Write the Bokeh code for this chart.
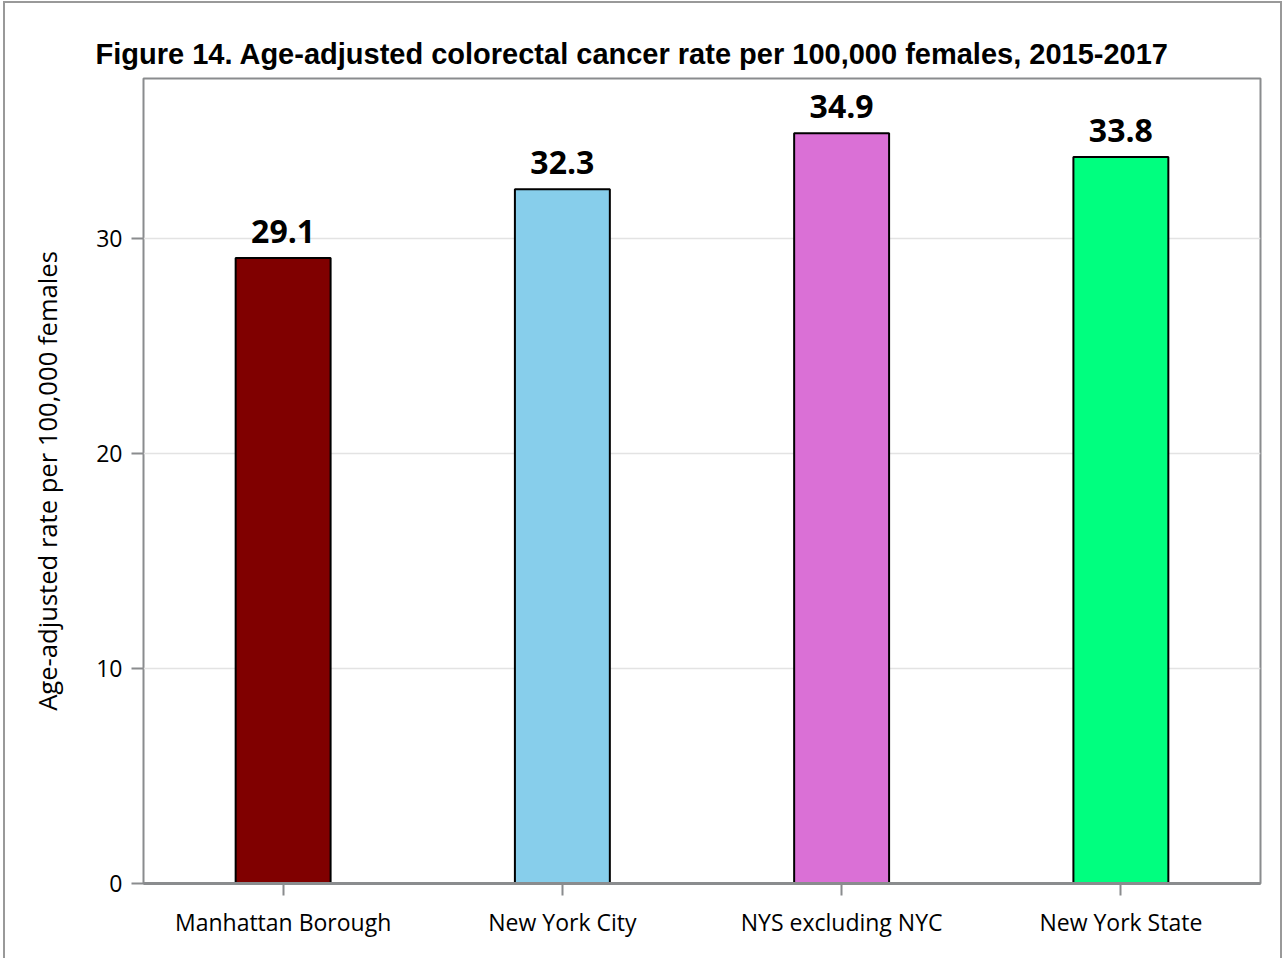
from bokeh.plotting import figure
from bokeh.models import ColumnDataSource, FactorRange, Range1d, FixedTicker
from bokeh.embed import file_html
from bokeh.resources import INLINE
from bokeh.core.properties import value

categories = ["Manhattan Borough", "New York City", "NYS excluding NYC", "New York State"]
rates = [29.1, 32.3, 34.9, 33.8]
colors = ["#800000", "#87CEEB", "#DA70D6", "#00FF7F"]
labels = ["29.1", "32.3", "34.9", "33.8"]
y_ticks = [0, 10, 20, 30]
title_text = "Figure 14. Age-adjusted colorectal cancer rate per 100,000 females, 2015-2017"
y_label = "Age-adjusted rate per 100,000 females"

src = ColumnDataSource(dict(cat=categories, rate=rates, color=colors, label=labels))

p = figure(x_range=FactorRange(*categories, range_padding=0),
           y_range=Range1d(0, 37.45),
           frame_width=1117, frame_height=805,
           min_border_left=138, min_border_right=20,
           min_border_top=75, min_border_bottom=75,
           output_backend="svg", toolbar_location=None,
           title=title_text)
p.styles = {"margin-left": "3px", "margin-top": "1px",
            "border-left": "2px solid #999999", "border-top": "2px solid #999999",
            "border-right": "2px solid #999999"}

p.title.text_font = "Liberation Sans"
p.title.text_font_style = "bold"
p.title.text_font_size = "29px"
p.title.text_color = "#000000"
p.title.align = "left"
p.title.offset = -48
p.title.standoff = 18

p.vbar(x="cat", top="rate", width=0.34, source=src, fill_color="color",
       line_color="#000000", line_width=2)
p.text(x="cat", y="rate", text="label", source=src, text_align="center",
       text_baseline="bottom", y_offset=-15, text_font=value("Open Sans"),
       text_font_style="bold", text_font_size="32px", text_color="#000000")

p.outline_line_color = "#8a8c8e"
p.outline_line_width = 2

p.xgrid.grid_line_color = None
p.ygrid.grid_line_color = "#e3e3e3"
p.ygrid.grid_line_width = 1.5

p.yaxis.ticker = FixedTicker(ticks=y_ticks)
p.yaxis.axis_line_color = None
p.yaxis.major_tick_line_color = "#8a8c8e"
p.yaxis.major_tick_line_width = 2
p.yaxis.major_tick_out = 12
p.yaxis.major_tick_in = 0
p.yaxis.minor_tick_line_color = None
p.yaxis.major_label_text_font = "Open Sans"
p.yaxis.major_label_text_font_size = "23px"
p.yaxis.major_label_text_color = "#000000"
p.yaxis.major_label_standoff = 9
p.yaxis.axis_label = y_label
p.yaxis.axis_label_text_font = "Open Sans"
p.yaxis.axis_label_text_font_size = "25.6px"
p.yaxis.axis_label_text_font_style = "normal"
p.yaxis.axis_label_text_color = "#000000"
p.yaxis.axis_label_standoff = 28

p.xaxis.axis_line_color = "#8a8c8e"
p.xaxis.axis_line_width = 3
p.xaxis.major_tick_line_color = "#8a8c8e"
p.xaxis.major_tick_line_width = 2
p.xaxis.major_tick_out = 12
p.xaxis.major_tick_in = 0
p.xaxis.major_label_text_font = "Open Sans"
p.xaxis.major_label_text_font_size = "23px"
p.xaxis.major_label_text_color = "#000000"
p.xaxis.major_label_standoff = 10

p.background_fill_color = "white"
p.border_fill_color = "white"

open("out.html", "w").write(file_html(p, INLINE))
